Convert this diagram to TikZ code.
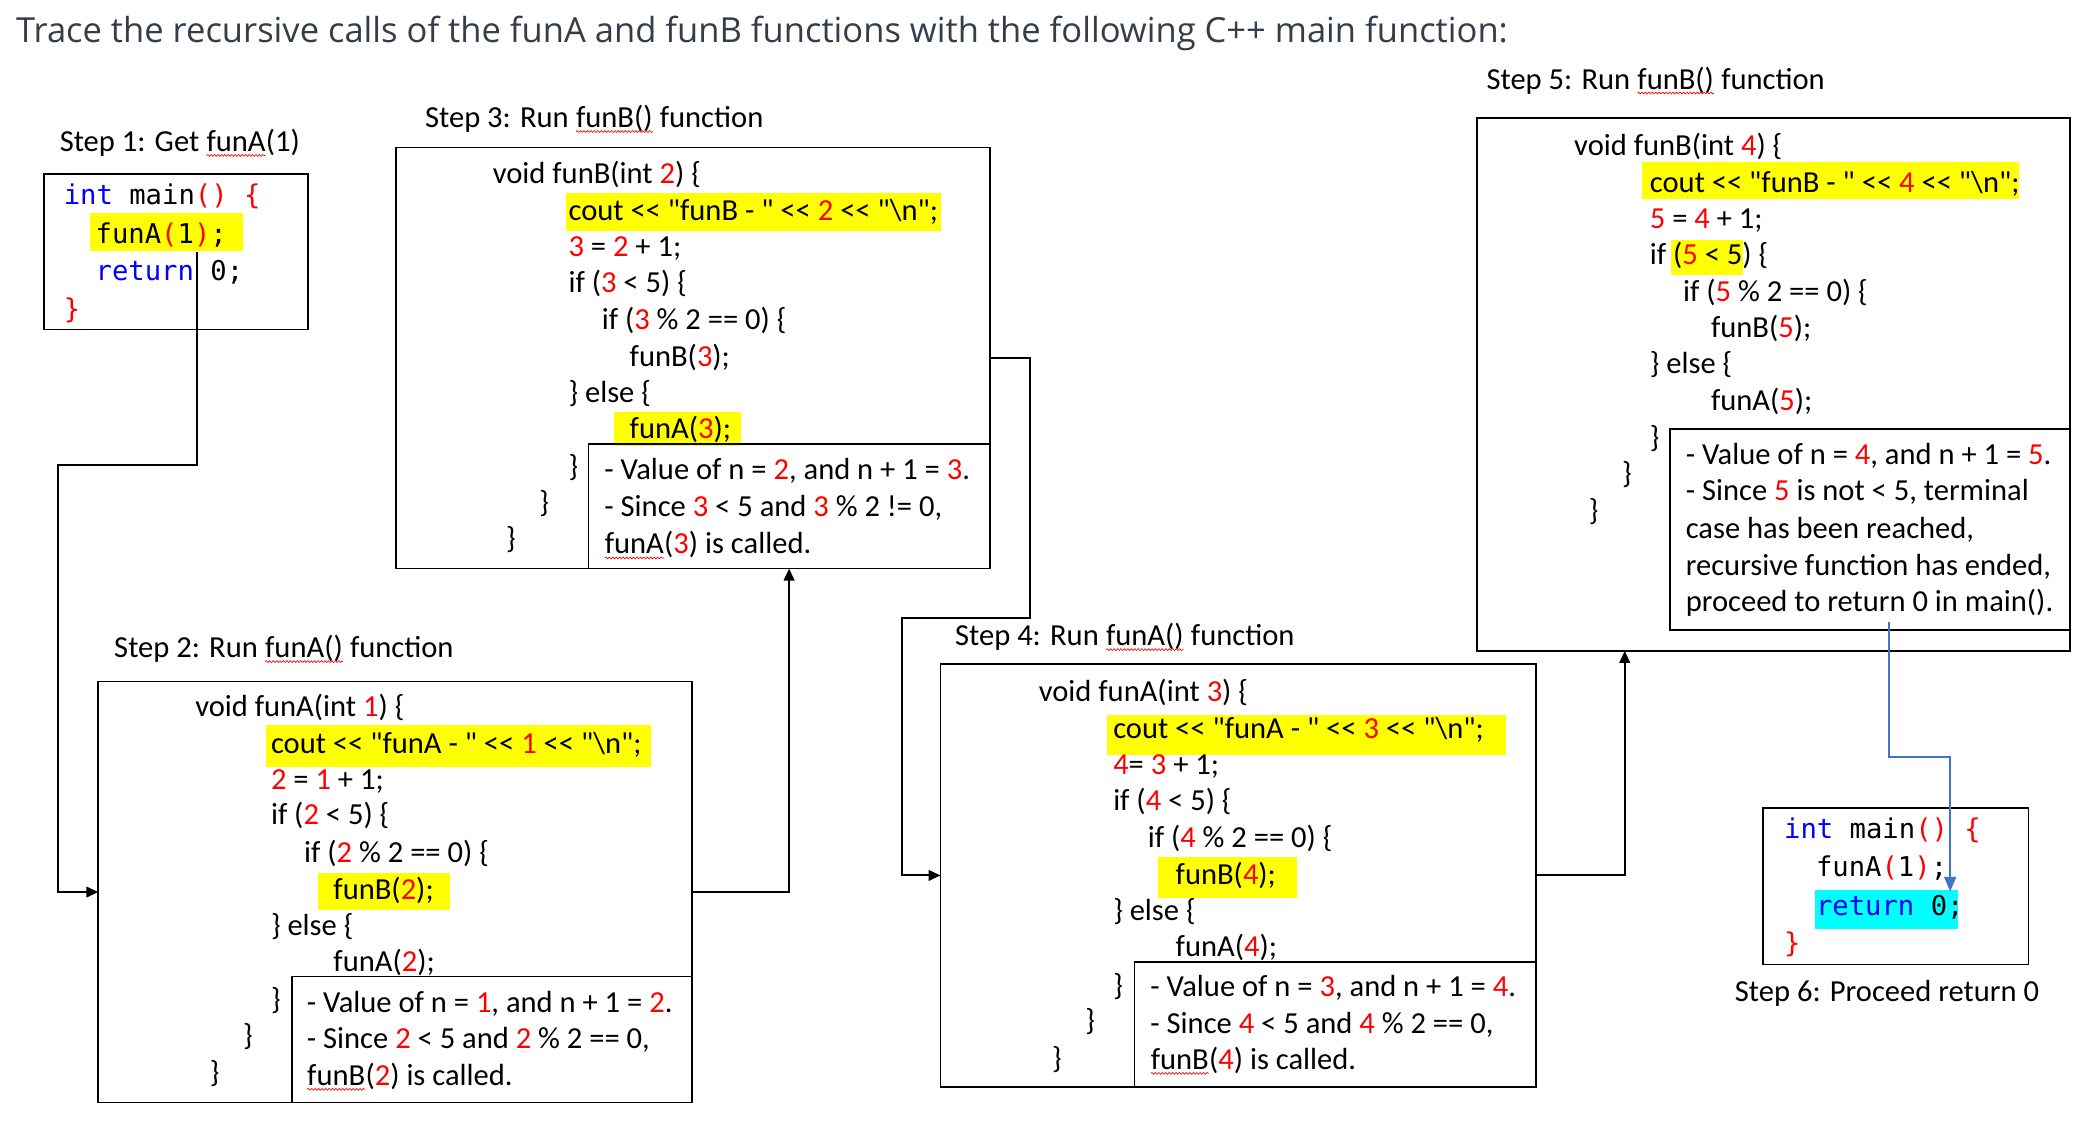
\documentclass[tikz,border=0pt]{standalone}
\usepackage{fontspec}
\setmainfont{Carlito}[Ligatures=TeXOff]
\newfontfamily\codefont{DejaVu Sans Mono}
\newfontfamily\titlefont{Open Sans}
\usetikzlibrary{arrows.meta,decorations.pathmorphing}
\definecolor{codeblue}{RGB}{0,0,255}
\definecolor{hlyellow}{RGB}{255,255,0}
\definecolor{hlcyan}{RGB}{0,255,255}
\definecolor{connblue}{RGB}{68,114,196}
\definecolor{titlegray}{RGB}{53,61,75}
\newcommand\wv[1]{\tikz[baseline=(wvn.base)]{\node[inner sep=0pt,outer sep=0pt](wvn){#1};\draw[red,line width=0.5pt,decorate,decoration={snake,amplitude=0.7pt,segment length=2.6pt}] ([yshift=-3pt]wvn.base west) -- ([yshift=-3pt]wvn.base east);}}
\newcommand\rd[1]{\textcolor{red}{#1}}
\newcommand\bl[1]{\textcolor{codeblue}{#1}}
\newcommand\shl{<<}
\newcommand\bs{\textbackslash}
\tikzset{
  cl/.style={anchor=base west, inner sep=0pt, outer sep=0pt, font=\fontsize{23}{27}\selectfont},
  cd/.style={anchor=base west, inner sep=0pt, outer sep=0pt, font=\codefont\fontsize{20.5}{25}\selectfont},
  box/.style={draw=black, line width=1.3pt, inner sep=0pt, outer sep=0pt},
  conn/.style={draw=black, line width=1.5pt, -{Triangle[length=9pt,width=8pt]}},
  bconn/.style={draw=connblue, line width=1.6pt, -{Triangle[length=11pt,width=9pt]}},
}
\begin{document}
\begin{tikzpicture}[x=1pt,y=-1pt]
\fill[white] (0,0) rectangle (1568,848);
\useasboundingbox (0,0) rectangle (1568,848);

% title
\node[anchor=base west, inner sep=0pt, font=\titlefont\fontsize{26}{30}\selectfont, text=titlegray] (title) at (12,32) {Trace the recursive calls of the funA and funB functions with the following C++ main function:};

% ---------------- Step 1
\node[cl] (s1) at (45,114) {Step 1: Get \wv{funA}(1)};
\fill[hlyellow] (68,160) rectangle (183,189);
\node[box, minimum width=199pt, minimum height=117pt] (b1) at (132.5,189.5) {};
\node[cd] (m1a) at (48,154) {\bl{int} main\rd{()} \rd{\{}};
\node[cd] (m1b) at (72,183) {funA\rd{(}1\rd{)};};
\node[cd] (m1c) at (72,211) {\bl{return} 0;};
\node[cd] (m1d) at (48,240) {\rd{\}}};
\coordinate (c1) at (148,190);

% ---------------- Step 2
\node[cl] (s2) at (86,495) {Step 2: Run \wv{funA()} function};
\fill[hlyellow] (200,546) rectangle (490,577);
\fill[hlyellow] (239,657) rectangle (339,685);
\node[box, minimum width=447pt, minimum height=317pt] (b2) at (297.5,671.5) {};
\node[box, minimum width=301pt, minimum height=95pt] (n2) at (370.5,782.5) {};
\node[cl] (a1) at (147,539) {void funA(int \rd{1}) \{};
\node[cl] (a2) at (204,567) {cout \shl{} "funA - " \shl{} \rd{1} \shl{} "\bs n";};
\node[cl] (a3) at (204,594) {\rd{2} = \rd{1} + 1;};
\node[cl] (a4) at (204,621) {if (\rd{2} < 5) \{};
\node[cl] (a5) at (229,649) {if (\rd{2} \% 2 == 0) \{};
\node[cl] (a6) at (251,677) {funB(\rd{2});};
\node[cl] (a7) at (204,704) {\} else \{};
\node[cl] (a8) at (251,731) {funA(\rd{2});};
\node[cl] (a9) at (204,760) {\}};
\node[cl] (a10) at (183,787) {\}};
\node[cl] (a11) at (158,815) {\}};
\node[cl] (an1) at (231,762) {- Value of n = \rd{1}, and n + 1 = \rd{2}.};
\node[cl] (an2) at (231,789) {- Since \rd{2} < 5 and \rd{2} \% 2 == 0,};
\node[cl] (an3) at (231,817) {\wv{funB}(\rd{2}) is called.};

% ---------------- Step 3
\node[cl] (s3) at (320,96) {Step 3: Run \wv{funB()} function};
\fill[hlyellow] (426,145) rectangle (708,174);
\fill[hlyellow] (462,310) rectangle (558,336);
\node[box, minimum width=447pt, minimum height=317pt] (b3) at (521.5,269.5) {};
\node[box, minimum width=302pt, minimum height=94pt] (n3) at (594,381) {};
\node[cl] (b3l1) at (371,138) {void funB(int \rd{2}) \{};
\node[cl] (b3l2) at (428,166) {cout \shl{} "funB - " \shl{} \rd{2} \shl{} "\bs n";};
\node[cl] (b3l3) at (428,193) {\rd{3} = \rd{2} + 1;};
\node[cl] (b3l4) at (428,220) {if (\rd{3} < 5) \{};
\node[cl] (b3l5) at (453,248) {if (\rd{3} \% 2 == 0) \{};
\node[cl] (b3l6) at (474,276) {funB(\rd{3});};
\node[cl] (b3l7) at (428,303) {\} else \{};
\node[cl] (b3l8) at (474,330) {funA(\rd{3});};
\node[cl] (b3l9) at (428,359) {\}};
\node[cl] (b3l10) at (406,386) {\}};
\node[cl] (b3l11) at (381,413) {\}};
\node[cl] (bn1) at (455,361) {- Value of n = \rd{2}, and n + 1 = \rd{3}.};
\node[cl] (bn2) at (455,389) {- Since \rd{3} < 5 and \rd{3} \% 2 != 0,};
\node[cl] (bn3) at (455,417) {\wv{funA}(\rd{3}) is called.};

% ---------------- Step 4
\node[cl] (s4) at (719,486) {Step 4: Run \wv{funA()} function};
\fill[hlyellow] (833,538) rectangle (1134,568);
\fill[hlyellow] (872,645) rectangle (976,676);
\node[box, minimum width=448pt, minimum height=318pt] (b4) at (932,659) {};
\node[box, minimum width=302pt, minimum height=94pt] (n4) at (1005,771) {};
\node[cl] (c4l1) at (782,528) {void funA(int \rd{3}) \{};
\node[cl] (c4l2) at (838,556) {cout \shl{} "funA - " \shl{} \rd{3} \shl{} "\bs n";};
\node[cl] (c4l3) at (838,583) {\rd{4}= \rd{3} + 1;};
\node[cl] (c4l4) at (838,610) {if (\rd{4} < 5) \{};
\node[cl] (c4l5) at (864,638) {if (\rd{4} \% 2 == 0) \{};
\node[cl] (c4l6) at (885,666) {funB(\rd{4});};
\node[cl] (c4l7) at (838,693) {\} else \{};
\node[cl] (c4l8) at (885,720) {funA(\rd{4});};
\node[cl] (c4l9) at (838,749) {\}};
\node[cl] (c4l10) at (817,776) {\}};
\node[cl] (c4l11) at (792,804) {\}};
\node[cl] (cn1) at (866,750) {- Value of n = \rd{3}, and n + 1 = \rd{4}.};
\node[cl] (cn2) at (866,778) {- Since \rd{4} < 5 and \rd{4} \% 2 == 0,};
\node[cl] (cn3) at (866,805) {\wv{funB}(\rd{4}) is called.};

% ---------------- Step 5
\node[cl] (s5) at (1119,67) {Step 5: Run \wv{funB()} function};
\fill[hlyellow] (1236,122) rectangle (1520,150);
\fill[hlyellow] (1258,181) rectangle (1312,207);
\node[box, minimum width=446pt, minimum height=401pt] (b5) at (1335,289.5) {};
\node[box, minimum width=301pt, minimum height=151pt] (n5) at (1407.5,398.5) {};
\node[cl] (d5l1) at (1185,117) {void funB(int \rd{4}) \{};
\node[cl] (d5l2) at (1242,145) {cout \shl{} "funB - " \shl{} \rd{4} \shl{} "\bs n";};
\node[cl] (d5l3) at (1242,172) {\rd{5} = \rd{4} + 1;};
\node[cl] (d5l4) at (1242,199) {if (\rd{5} < 5) \{};
\node[cl] (d5l5) at (1267,227) {if (\rd{5} \% 2 == 0) \{};
\node[cl] (d5l6) at (1288,254) {funB(\rd{5});};
\node[cl] (d5l7) at (1242,281) {\} else \{};
\node[cl] (d5l8) at (1288,309) {funA(\rd{5});};
\node[cl] (d5l9) at (1242,337) {\}};
\node[cl] (d5l10) at (1221,364) {\}};
\node[cl] (d5l11) at (1196,392) {\}};
\node[cl] (dn1) at (1269,350) {- Value of n = \rd{4}, and n + 1 = \rd{5}.};
\node[cl] (dn2) at (1269,377) {- Since \rd{5} is not < 5, terminal};
\node[cl] (dn3) at (1269,405) {case has been reached,};
\node[cl] (dn4) at (1269,433) {recursive function has ended,};
\node[cl] (dn5) at (1269,460) {proceed to return 0 in main().};
\coordinate (c5) at (1422,468);

% ---------------- Step 6
\fill[hlcyan] (1366,670) rectangle (1474,699);
\node[box, minimum width=200pt, minimum height=118pt] (b6) at (1427,667) {};
\node[cd] (m6a) at (1343,631) {\bl{int} main\rd{()} \rd{\{}};
\node[cd] (m6b) at (1367,660) {funA\rd{(}1\rd{)};};
\node[cd] (m6c) at (1367,689) {\bl{return} 0;};
\node[cd] (m6d) at (1343,717) {\rd{\}}};
\node[cl] (s6) at (1306,754) {Step 6: Proceed return 0};
\coordinate (c6) at (1468,671);

% ---------------- connectors
\draw[conn] (c1) |- (44,350) |- (b2.west);
\draw[conn] (b2.east) -| (n3.south);
\draw[conn] (b3.east) -- ++(30,0) |- (679,465) |- (b4.west);
\draw[conn] (b4.east) -| ([xshift=111pt]b5.south west);
\draw[bconn] (c5) -- (1422,570) -| (c6);
\end{tikzpicture}
\end{document}
